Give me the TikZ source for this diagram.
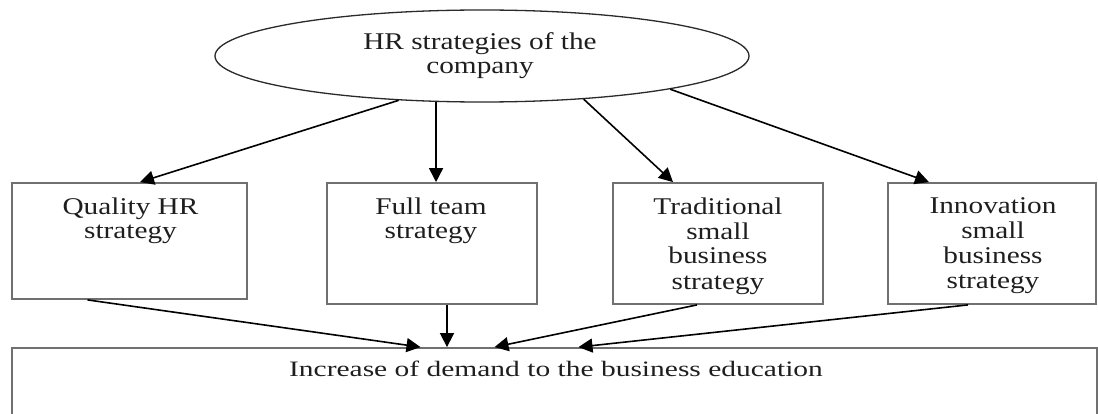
\documentclass[tikz,border=0pt]{standalone}
\usepackage{fontspec}
\setmainfont{Liberation Serif}[FakeStretch=1.22]
\newfontfamily\bottomfont{Liberation Serif}[FakeStretch=1.34]
\usetikzlibrary{shapes.geometric,arrows.meta,calc}
\definecolor{boxgray}{HTML}{707070}
\definecolor{ellc}{HTML}{2A2A2A}
\definecolor{inkc}{HTML}{1E1E1E}
\tikzset{
  boxnode/.style={draw=boxgray, line width=1.8pt, rectangle, inner sep=0pt},
  ellnode/.style={draw=ellc, line width=1.3pt, ellipse, inner sep=0pt, minimum width=534pt, minimum height=92pt},
  lbl/.style={anchor=base, align=center, inner sep=0pt, text=inkc, font=\fontsize{24}{24.5}\selectfont},
  arr/.style={line width=1.6pt, black, -{Triangle[length=14pt,width=14pt]}}
}
\begin{document}
\begin{tikzpicture}[x=1pt,y=-1pt]
\clip (0,0) rectangle (1098,414);
\node[ellnode] (ell) at (482,56) {};
\node[lbl] (t0) at (480,74) {HR strategies of the\\company};
\node[boxnode, minimum width=235pt, minimum height=116pt] (b1) at (129.5,241) {};
\node[boxnode, minimum width=210pt, minimum height=121pt] (b2) at (432,243.5) {};
\node[boxnode, minimum width=210pt, minimum height=121pt] (b3) at (718,243.5) {};
\node[boxnode, minimum width=208pt, minimum height=121pt] (b4) at (992,243.5) {};
\node[boxnode, minimum width=1085pt, minimum height=90pt] (bot) at (554.5,393) {};
\node[lbl] (t1) at (130.5,238.5) {Quality HR\\strategy};
\node[lbl] (t2) at (431,238.5) {Full team\\strategy};
\node[lbl, font=\fontsize{24}{25}\selectfont] (t3) at (718,289) {Traditional\\small\\business\\strategy};
\node[lbl, font=\fontsize{24}{25}\selectfont] (t4) at (993,288) {Innovation\\small\\business\\strategy};
\node[lbl, font=\bottomfont\fontsize{22}{24}\selectfont] (t5) at (556,376) {Increase of demand to the business education};
\draw[arr] (ell.208.4) -- ([xshift=10.5pt]b1.north);
\draw[arr] (ell.225) -- (ell.225 |- b2.north);
\draw[arr] (ell.337.8) -- ([xshift=-45pt]b3.north);
\draw[arr] (ell.350.8) -- ([xshift=-63pt]b4.north);
\draw[arr] ([xshift=-42pt]b1.south) -- ([xshift=-134pt]bot.north);
\draw[arr] ([xshift=15pt]b2.south) -- ([xshift=15pt]b2.south |- bot.north);
\draw[arr] ([xshift=-21pt]b3.south) -- ([xshift=-60pt]bot.north);
\draw[arr] ([xshift=-24pt]b4.south) -- ([xshift=24pt]bot.north);
\end{tikzpicture}
\end{document}
